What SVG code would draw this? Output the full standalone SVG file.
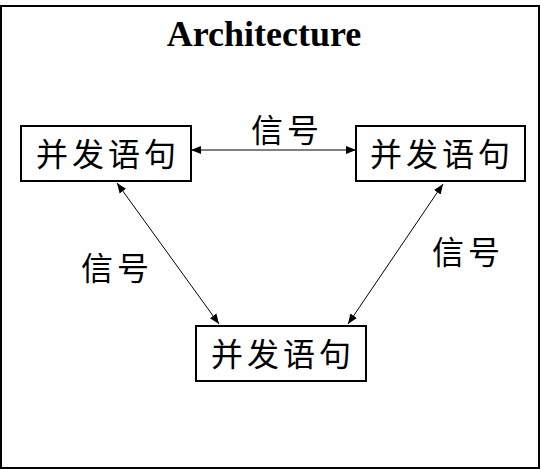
<svg xmlns="http://www.w3.org/2000/svg" width="541" height="469" viewBox="0 0 541 469">
<style>
.box{fill:#fff;stroke:#000;stroke-width:2}
.lbl{font-family:"Noto Sans CJK SC","Noto Sans CJK JP",sans-serif;font-size:32px;fill:#000;letter-spacing:4px}
.sig{font-family:"Noto Sans CJK SC","Noto Sans CJK JP",sans-serif;font-size:32px;fill:#000;letter-spacing:4px}
.con{stroke:#000;stroke-width:1;fill:none;marker-start:url(#ah);marker-end:url(#ah)}
</style>
<defs>
<marker id="ah" viewBox="0 0 10 10" refX="10" refY="5" markerWidth="10" markerHeight="10" markerUnits="userSpaceOnUse" orient="auto-start-reverse">
<path d="M0,1 L10,5 L0,9 Z" fill="#000"/>
</marker>
</defs>
<rect x="1" y="6" width="538" height="462" fill="#fff" stroke="#000" stroke-width="2"/>
<text x="264" y="46" text-anchor="middle" font-family="Liberation Serif,serif" font-weight="bold" font-size="36">Architecture</text>
<g id="connectors">
<line class="con" x1="191" y1="150" x2="356" y2="150"/>
<line class="con" x1="117" y1="183" x2="219" y2="324"/>
<line class="con" x1="443" y1="184" x2="348" y2="324"/>
</g>
<g id="node-left">
<rect class="box" x="21" y="126" width="170" height="55"/>
<text class="lbl" x="108" y="166" text-anchor="middle">并发语句</text>
</g>
<g id="node-right">
<rect class="box" x="356" y="126" width="169" height="55"/>
<text class="lbl" x="442" y="166" text-anchor="middle">并发语句</text>
</g>
<g id="node-bottom">
<rect class="box" x="196" y="326" width="170" height="55"/>
<text class="lbl" x="283" y="366" text-anchor="middle">并发语句</text>
</g>
<g id="labels">
<text class="sig" x="287" y="142" text-anchor="middle">信号</text>
<text class="sig" x="117" y="280" text-anchor="middle">信号</text>
<text class="sig" x="468" y="264" text-anchor="middle">信号</text>
</g>
</svg>
